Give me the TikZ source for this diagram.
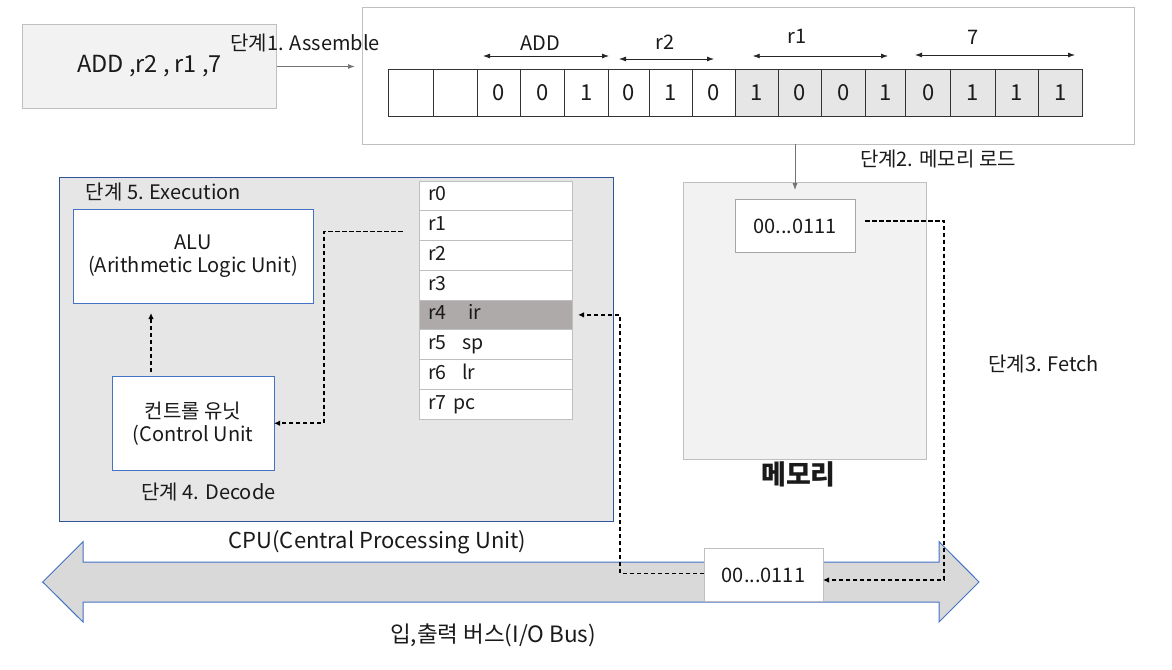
\documentclass[tikz,border=0pt]{standalone}
\usepackage{fontspec}
\setmainfont{Noto Sans CJK KR}
\usetikzlibrary{arrows.meta}
\definecolor{txt}{HTML}{1A1A1A}
\definecolor{lgray}{HTML}{F2F2F2}
\definecolor{bgray}{HTML}{BFBFBF}
\definecolor{cellgray}{HTML}{E7E6E6}
\definecolor{cpufill}{HTML}{E6E6E6}
\definecolor{cpuline}{HTML}{2F5597}
\definecolor{blueline}{HTML}{4472C4}
\definecolor{irfill}{HTML}{AEAAAA}
\definecolor{busfill}{HTML}{D9D9D9}
\tikzset{
  every node/.style={text=txt, font=\fontsize{20}{23}\selectfont},
  plainbox/.style={draw, rectangle, inner sep=0pt, outer sep=0pt},
  cellbox/.style={plainbox, draw=black!80, line width=1pt, minimum height=47.5pt, font=\fontsize{22}{26}\selectfont},
  regbox/.style={plainbox, draw=bgray, line width=1pt, fill=white, minimum height=29.75pt, text width=135pt, inner xsep=8.7pt, align=left, text height=14pt, text depth=4pt, font=\fontsize{19.5}{22}\selectfont},
  unitbox/.style={plainbox, draw=blueline, line width=1pt, fill=white, align=center, font=\fontsize{20}{23}\selectfont},
  dasharrow/.style={draw=black, line width=1.6pt, dash pattern=on 4.5pt off 2.5pt, -{Latex[length=6pt,width=5.5pt]}},
  dimarrow/.style={draw=black!85, line width=0.8pt, {Latex[length=7pt,width=5pt]}-{Latex[length=7pt,width=5pt]}},
  lbl/.style={inner sep=0pt},
}
\begin{document}
\begin{tikzpicture}[x=1pt,y=-1pt]
\useasboundingbox (0,0) rectangle (1172,669);

% source instruction
\node[plainbox, draw=bgray, fill=lgray, line width=1pt, minimum width=254pt, minimum height=84pt,
      font=\fontsize{23.5}{27}\selectfont] (src) at (149.5,66.5) {ADD ,r2 , r1 ,7};

% machine code frame
\node[plainbox, draw=bgray, fill=white, line width=1pt, minimum width=772pt, minimum height=136pt] (code) at (748,76) {};

\draw[draw=black!55, line width=1pt, -{Latex[length=7pt,width=5pt]}, shorten >=7pt] (src.east) -- (src.east -| code.west);
\node[lbl] (s1) at (305,43) {단계1. Assemble};

% bit cells
\foreach \i/\a/\b/\v/\f in {1/388.3/433.3//white, 2/433.3/477.3//white, 3/477.3/520.3/0/white,
  4/520.3/564/0/white, 5/564/608.7/1/white, 6/608.7/649.3/0/white, 7/649.3/692/1/white,
  8/692/735.7/0/white, 9/735.7/778.3/1/cellgray, 10/778.3/821.7/0/cellgray, 11/821.7/865.7/0/cellgray,
  12/865.7/905.7/1/cellgray, 13/905.7/950.7/0/cellgray, 14/950.7/995/1/cellgray, 15/995/1038.3/1/cellgray,
  16/1038.3/1082.3/1/cellgray}{
  \pgfmathsetmacro\w{\b-\a}
  \pgfmathsetmacro\cx{(\a+\b)/2}
  \node[cellbox, fill=\f, minimum width=\w pt] (c\i) at (\cx,93) {\v};
}

% field spans
\coordinate (addL) at (483,56);  \coordinate (addR) at (609,56);
\coordinate (r2L) at (619,59);   \coordinate (r2R) at (714,59);
\coordinate (r1L) at (752.7,56); \coordinate (r1R) at (888,56);
\coordinate (svL) at (915,55);   \coordinate (svR) at (1075,55);
\draw[dimarrow] (addL) -- (addR);
\draw[dimarrow] (r2L) -- (r2R);
\draw[dimarrow] (r1L) -- (r1R);
\draw[dimarrow] (svL) -- (svR);
\node[lbl] (fADD) at (540,43) {ADD};
\node[lbl] (fr2) at (665,42) {r2};
\node[lbl] (fr1) at (797,36) {r1};
\node[lbl] (f7) at (973,37) {7};

% memory
\node[plainbox, draw=bgray, fill=lgray, line width=1pt, minimum width=243pt, minimum height=277.3pt] (mem) at (804.5,321.3) {};
\node[plainbox, draw=black!35, fill=white, line width=1pt, minimum width=120pt, minimum height=53.7pt] (word) at (795,226) {00...0111};
\node[lbl, font=\fontsize{27}{31}\selectfont\bfseries] (memlbl) at (798.5,474) {메모리};
\draw[draw=black!55, line width=1pt, -{Latex[length=7pt,width=5pt]}, shorten >=9pt] (word.north |- code.south) -- (word.north);
\node[lbl] (s2) at (938,159) {단계2. 메모리 로드};
\node[lbl] (s3) at (1043.5,364) {단계3. Fetch};

% CPU
\node[plainbox, draw=cpuline, fill=cpufill, line width=1pt, minimum width=554pt, minimum height=344.5pt] (cpu) at (336.5,349.25) {};
\node[lbl] (s5) at (163.5,192.5) {단계 5. Execution};
\node[unitbox, minimum width=240pt, minimum height=94pt] (alu) at (193,256) {ALU\\[0pt](Arithmetic Logic Unit)};
\node[unitbox, minimum width=162pt, minimum height=94.5pt] (cu) at (193,423.25) {컨트롤 유닛\\[0pt](Control Unit};
\node[lbl] (s4) at (208.5,492) {단계 4. Decode};

% registers
\foreach \i/\t in {0/r0, 1/r1, 2/r2, 3/r3, 4/{\makebox[40pt][l]{r4}ir}, 5/{\makebox[34pt][l]{r5}sp}, 6/{\makebox[34pt][l]{r6}lr}, 7/{\makebox[25.5pt][l]{r7}pc}}{
  \pgfmathsetmacro\cy{181+29.75*(\i+0.5)}
  \node[regbox] (reg\i) at (495.8,\cy) {\t};
}
\node[regbox, fill=irfill] (reg4) at (495.8,314.875) {\makebox[40pt][l]{r4}ir};

% bus
\path[draw=blueline, fill=busfill, line width=1pt, line join=miter]
  (42.7,582) -- (83,541.7) -- (83,562) -- (939,562) -- (939,541.7) -- (979,582)
  -- (939,622) -- (939,602) -- (83,602) -- (83,622) -- cycle;
\node[lbl, font=\fontsize{22}{26}\selectfont] (cpulbl) at (377.5,542) {CPU(Central Processing Unit)};
\node[lbl, font=\fontsize{22.5}{26}\selectfont] (buslbl) at (493,635) {입,출력 버스(I/O Bus)};
\node[plainbox, draw=bgray, fill=white, line width=1pt, minimum width=119pt, minimum height=52.7pt] (busword) at (763.5,575.3) {00...0111};

% dashed flows
\draw[dasharrow] ([xshift=10pt,yshift=5.3pt]word.east) -- ++(79,0) |- ([yshift=-4.7pt]busword.east);
\draw[dasharrow, shorten >=6pt] ([yshift=2pt]busword.west) -- ++(-84,0) |- (reg4.east);
\draw[dasharrow] ([xshift=-16.8pt,yshift=-6pt]reg1.west) -- ++(-79,0) |- (cu.east);
\draw[dasharrow, shorten <=4pt, shorten >=10pt] ([xshift=-42pt]cu.north) -- ([xshift=-42pt]alu.south);
\end{tikzpicture}
\end{document}
